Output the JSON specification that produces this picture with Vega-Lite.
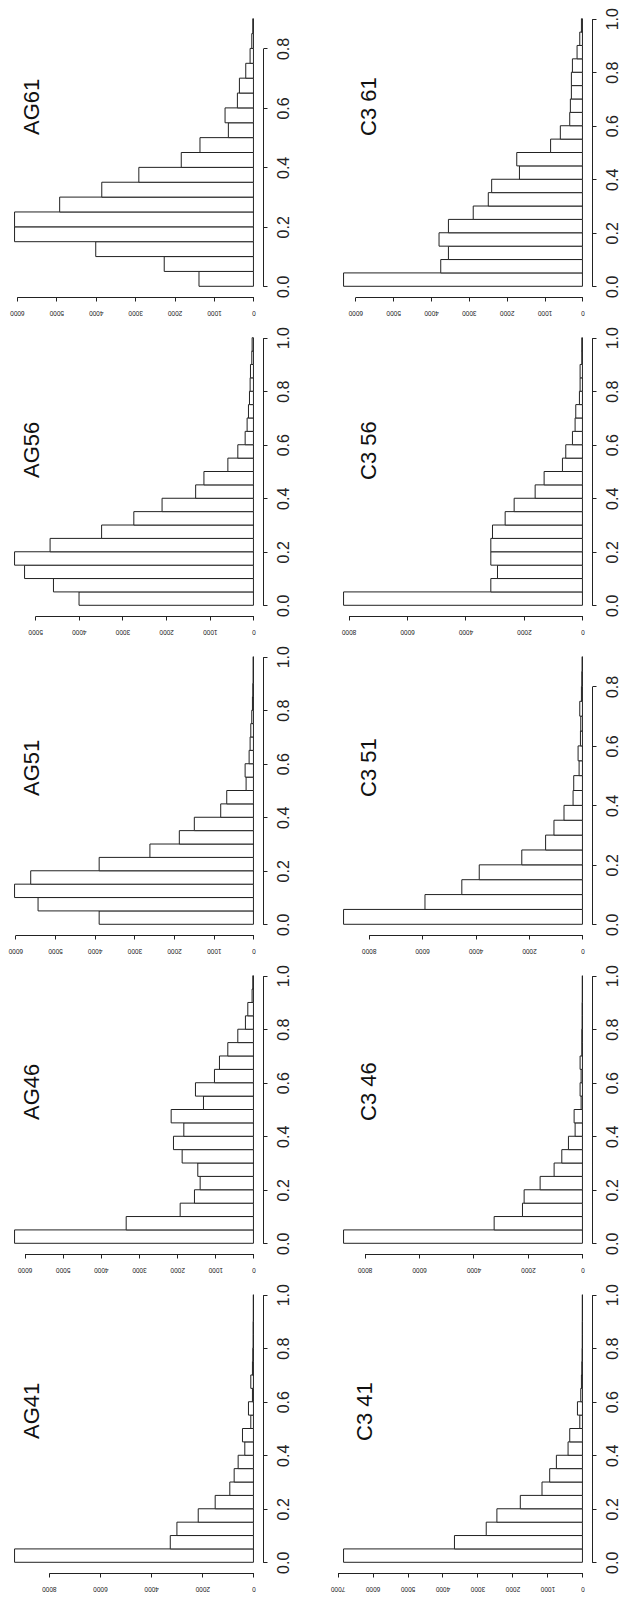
{
  "$schema": "https://vega.github.io/schema/vega-lite/v6.json",
  "background": "white",
  "padding": {"left": 5, "top": 7, "right": 0, "bottom": 0},
  "bounds": "flush",
  "columns": 2,
  "spacing": {"row": 30, "column": 71},
  "config": {
    "view": {"stroke": null},
    "font": "Liberation Sans",
    "axis": {"grid": false, "title": null, "domainColor": "#222", "domainWidth": 1, "tickColor": "#222", "tickWidth": 1, "tickSize": 4, "labelColor": "#222", "labelFont": "Liberation Sans", "labelOverlap": false, "labelFlush": false},
    "axisX": {"labelAngle": 180, "labelFontSize": 6.5, "labelPadding": 8.5, "labelAlign": "center", "labelBaseline": "bottom"},
    "axisY": {"labelAngle": 270, "labelFontSize": 16, "labelPadding": 8, "labelAlign": "center", "labelBaseline": "top", "labelFont": "Liberation Sans Narrow, Liberation Sans"},
    "title": {"fontSize": 22, "fontWeight": "normal", "color": "#111", "font": "Liberation Sans"},
    "bar": {"fill": "white", "stroke": "#222", "strokeWidth": 1}
  },
  "datasets": {
    "AG61": [
      {"lo": 0, "hi": 0.05, "count": 1381}, {"lo": 0.05, "hi": 0.1, "count": 2263}, {"lo": 0.1, "hi": 0.15, "count": 4000}, {"lo": 0.15, "hi": 0.2, "count": 6059},
      {"lo": 0.2, "hi": 0.25, "count": 6059}, {"lo": 0.25, "hi": 0.3, "count": 4915}, {"lo": 0.3, "hi": 0.35, "count": 3847}, {"lo": 0.35, "hi": 0.4, "count": 2907},
      {"lo": 0.4, "hi": 0.45, "count": 1831}, {"lo": 0.45, "hi": 0.5, "count": 1356}, {"lo": 0.5, "hi": 0.55, "count": 636}, {"lo": 0.55, "hi": 0.6, "count": 720},
      {"lo": 0.6, "hi": 0.65, "count": 407}, {"lo": 0.65, "hi": 0.7, "count": 356}, {"lo": 0.7, "hi": 0.75, "count": 195}, {"lo": 0.75, "hi": 0.8, "count": 85},
      {"lo": 0.8, "hi": 0.85, "count": 42}, {"lo": 0.85, "hi": 0.9, "count": 17}
    ],
    "C361": [
      {"lo": 0, "hi": 0.05, "count": 6310}, {"lo": 0.05, "hi": 0.1, "count": 3743}, {"lo": 0.1, "hi": 0.15, "count": 3540}, {"lo": 0.15, "hi": 0.2, "count": 3788},
      {"lo": 0.2, "hi": 0.25, "count": 3540}, {"lo": 0.25, "hi": 0.3, "count": 2885}, {"lo": 0.3, "hi": 0.35, "count": 2487}, {"lo": 0.35, "hi": 0.4, "count": 2398},
      {"lo": 0.4, "hi": 0.45, "count": 1664}, {"lo": 0.45, "hi": 0.5, "count": 1735}, {"lo": 0.5, "hi": 0.55, "count": 841}, {"lo": 0.55, "hi": 0.6, "count": 584},
      {"lo": 0.6, "hi": 0.65, "count": 336}, {"lo": 0.65, "hi": 0.7, "count": 319}, {"lo": 0.7, "hi": 0.75, "count": 292}, {"lo": 0.75, "hi": 0.8, "count": 292},
      {"lo": 0.8, "hi": 0.85, "count": 265}, {"lo": 0.85, "hi": 0.9, "count": 142}, {"lo": 0.9, "hi": 0.95, "count": 71}, {"lo": 0.95, "hi": 1, "count": 27}
    ],
    "AG56": [
      {"lo": 0, "hi": 0.05, "count": 3995}, {"lo": 0.05, "hi": 0.1, "count": 4581}, {"lo": 0.1, "hi": 0.15, "count": 5243}, {"lo": 0.15, "hi": 0.2, "count": 5472},
      {"lo": 0.2, "hi": 0.25, "count": 4658}, {"lo": 0.25, "hi": 0.3, "count": 3478}, {"lo": 0.3, "hi": 0.35, "count": 2740}, {"lo": 0.35, "hi": 0.4, "count": 2093},
      {"lo": 0.4, "hi": 0.45, "count": 1324}, {"lo": 0.45, "hi": 0.5, "count": 1134}, {"lo": 0.5, "hi": 0.55, "count": 586}, {"lo": 0.55, "hi": 0.6, "count": 358},
      {"lo": 0.6, "hi": 0.65, "count": 190}, {"lo": 0.65, "hi": 0.7, "count": 145}, {"lo": 0.7, "hi": 0.75, "count": 114}, {"lo": 0.75, "hi": 0.8, "count": 91},
      {"lo": 0.8, "hi": 0.85, "count": 76}, {"lo": 0.85, "hi": 0.9, "count": 68}, {"lo": 0.9, "hi": 0.95, "count": 38}, {"lo": 0.95, "hi": 1, "count": 30}
    ],
    "C356": [
      {"lo": 0, "hi": 0.05, "count": 8171}, {"lo": 0.05, "hi": 0.1, "count": 3134}, {"lo": 0.1, "hi": 0.15, "count": 2906}, {"lo": 0.15, "hi": 0.2, "count": 3134},
      {"lo": 0.2, "hi": 0.25, "count": 3134}, {"lo": 0.25, "hi": 0.3, "count": 3077}, {"lo": 0.3, "hi": 0.35, "count": 2644}, {"lo": 0.35, "hi": 0.4, "count": 2336},
      {"lo": 0.4, "hi": 0.45, "count": 1618}, {"lo": 0.45, "hi": 0.5, "count": 1311}, {"lo": 0.5, "hi": 0.55, "count": 684}, {"lo": 0.55, "hi": 0.6, "count": 570},
      {"lo": 0.6, "hi": 0.65, "count": 342}, {"lo": 0.65, "hi": 0.7, "count": 251}, {"lo": 0.7, "hi": 0.75, "count": 228}, {"lo": 0.75, "hi": 0.8, "count": 103},
      {"lo": 0.8, "hi": 0.85, "count": 80}, {"lo": 0.85, "hi": 0.9, "count": 80}, {"lo": 0.9, "hi": 0.95, "count": 23}, {"lo": 0.95, "hi": 1, "count": 23}
    ],
    "AG51": [
      {"lo": 0, "hi": 0.05, "count": 3888}, {"lo": 0.05, "hi": 0.1, "count": 5428}, {"lo": 0.1, "hi": 0.15, "count": 6020}, {"lo": 0.15, "hi": 0.2, "count": 5613},
      {"lo": 0.2, "hi": 0.25, "count": 3888}, {"lo": 0.25, "hi": 0.3, "count": 2609}, {"lo": 0.3, "hi": 0.35, "count": 1868}, {"lo": 0.35, "hi": 0.4, "count": 1490},
      {"lo": 0.4, "hi": 0.45, "count": 825}, {"lo": 0.45, "hi": 0.5, "count": 673}, {"lo": 0.5, "hi": 0.55, "count": 185}, {"lo": 0.55, "hi": 0.6, "count": 210},
      {"lo": 0.6, "hi": 0.65, "count": 109}, {"lo": 0.65, "hi": 0.7, "count": 84}, {"lo": 0.7, "hi": 0.75, "count": 67}, {"lo": 0.75, "hi": 0.8, "count": 42},
      {"lo": 0.8, "hi": 0.85, "count": 25}, {"lo": 0.85, "hi": 0.9, "count": 17}, {"lo": 0.9, "hi": 0.95, "count": 8}, {"lo": 0.95, "hi": 1, "count": 8}
    ],
    "C351": [
      {"lo": 0, "hi": 0.05, "count": 8940}, {"lo": 0.05, "hi": 0.1, "count": 5893}, {"lo": 0.1, "hi": 0.15, "count": 4514}, {"lo": 0.15, "hi": 0.2, "count": 3862},
      {"lo": 0.2, "hi": 0.25, "count": 2270}, {"lo": 0.25, "hi": 0.3, "count": 1379}, {"lo": 0.3, "hi": 0.35, "count": 1066}, {"lo": 0.35, "hi": 0.4, "count": 690},
      {"lo": 0.4, "hi": 0.45, "count": 351}, {"lo": 0.45, "hi": 0.5, "count": 326}, {"lo": 0.5, "hi": 0.55, "count": 125}, {"lo": 0.55, "hi": 0.6, "count": 163},
      {"lo": 0.6, "hi": 0.65, "count": 75}, {"lo": 0.65, "hi": 0.7, "count": 63}, {"lo": 0.7, "hi": 0.75, "count": 100}, {"lo": 0.75, "hi": 0.8, "count": 38},
      {"lo": 0.8, "hi": 0.85, "count": 25}, {"lo": 0.85, "hi": 0.9, "count": 13}
    ],
    "AG46": [
      {"lo": 0, "hi": 0.05, "count": 6262}, {"lo": 0.05, "hi": 0.1, "count": 3336}, {"lo": 0.1, "hi": 0.15, "count": 1921}, {"lo": 0.15, "hi": 0.2, "count": 1546},
      {"lo": 0.2, "hi": 0.25, "count": 1397}, {"lo": 0.25, "hi": 0.3, "count": 1459}, {"lo": 0.3, "hi": 0.35, "count": 1869}, {"lo": 0.35, "hi": 0.4, "count": 2096},
      {"lo": 0.4, "hi": 0.45, "count": 1825}, {"lo": 0.45, "hi": 0.5, "count": 2157}, {"lo": 0.5, "hi": 0.55, "count": 1310}, {"lo": 0.55, "hi": 0.6, "count": 1520},
      {"lo": 0.6, "hi": 0.65, "count": 1022}, {"lo": 0.65, "hi": 0.7, "count": 891}, {"lo": 0.7, "hi": 0.75, "count": 672}, {"lo": 0.75, "hi": 0.8, "count": 410},
      {"lo": 0.8, "hi": 0.85, "count": 210}, {"lo": 0.85, "hi": 0.9, "count": 148}, {"lo": 0.9, "hi": 0.95, "count": 35}, {"lo": 0.95, "hi": 1, "count": 17}
    ],
    "C346": [
      {"lo": 0, "hi": 0.05, "count": 8771}, {"lo": 0.05, "hi": 0.1, "count": 3242}, {"lo": 0.1, "hi": 0.15, "count": 2202}, {"lo": 0.15, "hi": 0.2, "count": 2141},
      {"lo": 0.2, "hi": 0.25, "count": 1554}, {"lo": 0.25, "hi": 0.3, "count": 1040}, {"lo": 0.3, "hi": 0.35, "count": 758}, {"lo": 0.35, "hi": 0.4, "count": 514},
      {"lo": 0.4, "hi": 0.45, "count": 269}, {"lo": 0.45, "hi": 0.5, "count": 306}, {"lo": 0.5, "hi": 0.55, "count": 49}, {"lo": 0.55, "hi": 0.6, "count": 86},
      {"lo": 0.6, "hi": 0.65, "count": 49}, {"lo": 0.65, "hi": 0.7, "count": 86}, {"lo": 0.7, "hi": 0.75, "count": 24}, {"lo": 0.75, "hi": 0.8, "count": 24},
      {"lo": 0.8, "hi": 0.85, "count": 12}, {"lo": 0.85, "hi": 0.9, "count": 12}, {"lo": 0.9, "hi": 0.95, "count": 5}, {"lo": 0.95, "hi": 1, "count": 5}
    ],
    "AG41": [
      {"lo": 0, "hi": 0.05, "count": 9340}, {"lo": 0.05, "hi": 0.1, "count": 3252}, {"lo": 0.1, "hi": 0.15, "count": 2992}, {"lo": 0.15, "hi": 0.2, "count": 2159},
      {"lo": 0.2, "hi": 0.25, "count": 1496}, {"lo": 0.25, "hi": 0.3, "count": 924}, {"lo": 0.3, "hi": 0.35, "count": 754}, {"lo": 0.35, "hi": 0.4, "count": 598},
      {"lo": 0.4, "hi": 0.45, "count": 338}, {"lo": 0.45, "hi": 0.5, "count": 429}, {"lo": 0.5, "hi": 0.55, "count": 104}, {"lo": 0.55, "hi": 0.6, "count": 195},
      {"lo": 0.6, "hi": 0.65, "count": 39}, {"lo": 0.65, "hi": 0.7, "count": 104}, {"lo": 0.7, "hi": 0.75, "count": 39}, {"lo": 0.75, "hi": 0.8, "count": 26},
      {"lo": 0.8, "hi": 0.85, "count": 13}, {"lo": 0.85, "hi": 0.9, "count": 13}, {"lo": 0.9, "hi": 0.95, "count": 5}, {"lo": 0.95, "hi": 1, "count": 5}
    ],
    "C341": [
      {"lo": 0, "hi": 0.05, "count": 6828}, {"lo": 0.05, "hi": 0.1, "count": 3658}, {"lo": 0.1, "hi": 0.15, "count": 2750}, {"lo": 0.15, "hi": 0.2, "count": 2445},
      {"lo": 0.2, "hi": 0.25, "count": 1776}, {"lo": 0.25, "hi": 0.3, "count": 1156}, {"lo": 0.3, "hi": 0.35, "count": 936}, {"lo": 0.35, "hi": 0.4, "count": 745},
      {"lo": 0.4, "hi": 0.45, "count": 411}, {"lo": 0.45, "hi": 0.5, "count": 363}, {"lo": 0.5, "hi": 0.55, "count": 76}, {"lo": 0.55, "hi": 0.6, "count": 143},
      {"lo": 0.6, "hi": 0.65, "count": 48}, {"lo": 0.65, "hi": 0.7, "count": 29}, {"lo": 0.7, "hi": 0.75, "count": 19}, {"lo": 0.75, "hi": 0.8, "count": 10},
      {"lo": 0.8, "hi": 0.85, "count": 5}, {"lo": 0.85, "hi": 0.9, "count": 5}, {"lo": 0.9, "hi": 0.95, "count": 3}, {"lo": 0.95, "hi": 1, "count": 3}
    ]
  },
  "concat": [
    {
      "width": 258, "height": 289,
      "title": {"text": "AG61", "orient": "left", "anchor": "start", "frame": "group", "offset": -56, "dx": 162, "baseline": "alphabetic"},
      "data": {"name": "AG61"},
      "mark": "bar",
      "encoding": {
        "y": {"field": "lo", "type": "quantitative", "scale": {"domain": [-0.036, 0.936], "nice": false, "zero": false}, "axis": {"orient": "right", "values": [0, 0.2, 0.4, 0.6, 0.8], "format": ".1f", "domainDash": [237.9, 2000], "domainDashOffset": -10.7}},
        "y2": {"field": "hi"},
        "x": {"field": "count", "type": "quantitative", "scale": {"domain": [-242.4, 6301.4], "reverse": true, "nice": false, "zero": false}, "axis": {"values": [0, 1000, 2000, 3000, 4000, 5000, 6000], "format": "d", "domainDash": [236.6, 2000], "domainDashOffset": -9.56}},
        "x2": {"datum": 0}
      }
    },
    {
      "width": 258, "height": 289,
      "title": {"text": "C3 61", "orient": "left", "anchor": "start", "frame": "group", "offset": -64, "dx": 161, "baseline": "alphabetic"},
      "data": {"name": "C361"},
      "mark": "bar",
      "encoding": {
        "y": {"field": "lo", "type": "quantitative", "scale": {"domain": [-0.04, 1.04], "nice": false, "zero": false}, "axis": {"orient": "right", "values": [0, 0.2, 0.4, 0.6, 0.8, 1.0], "format": ".1f", "domainDash": [267.6, 2000], "domainDashOffset": -10.7}},
        "y2": {"field": "hi"},
        "x": {"field": "count", "type": "quantitative", "scale": {"domain": [-252.4, 6562.4], "reverse": true, "nice": false, "zero": false}, "axis": {"values": [0, 1000, 2000, 3000, 4000, 5000, 6000], "format": "d", "domainDash": [227.2, 2000], "domainDashOffset": -9.56}},
        "x2": {"datum": 0}
      }
    },
    {
      "width": 258, "height": 289,
      "title": {"text": "AG56", "orient": "left", "anchor": "start", "frame": "group", "offset": -56, "dx": 138, "baseline": "alphabetic"},
      "data": {"name": "AG56"},
      "mark": "bar",
      "encoding": {
        "y": {"field": "lo", "type": "quantitative", "scale": {"domain": [-0.04, 1.04], "nice": false, "zero": false}, "axis": {"orient": "right", "values": [0, 0.2, 0.4, 0.6, 0.8, 1.0], "format": ".1f", "domainDash": [267.6, 2000], "domainDashOffset": -10.7}},
        "y2": {"field": "hi"},
        "x": {"field": "count", "type": "quantitative", "scale": {"domain": [-218.9, 5690.9], "reverse": true, "nice": false, "zero": false}, "axis": {"values": [0, 1000, 2000, 3000, 4000, 5000], "format": "d", "domainDash": [218.3, 2000], "domainDashOffset": -9.56}},
        "x2": {"datum": 0}
      }
    },
    {
      "width": 258, "height": 289,
      "title": {"text": "C3 56", "orient": "left", "anchor": "start", "frame": "group", "offset": -64, "dx": 136, "baseline": "alphabetic"},
      "data": {"name": "C356"},
      "mark": "bar",
      "encoding": {
        "y": {"field": "lo", "type": "quantitative", "scale": {"domain": [-0.04, 1.04], "nice": false, "zero": false}, "axis": {"orient": "right", "values": [0, 0.2, 0.4, 0.6, 0.8, 1.0], "format": ".1f", "domainDash": [267.6, 2000], "domainDashOffset": -10.7}},
        "y2": {"field": "hi"},
        "x": {"field": "count", "type": "quantitative", "scale": {"domain": [-326.8, 8497.8], "reverse": true, "nice": false, "zero": false}, "axis": {"values": [0, 2000, 4000, 6000, 8000], "format": "d", "domainDash": [233.9, 2000], "domainDashOffset": -9.56}},
        "x2": {"datum": 0}
      }
    },
    {
      "width": 258, "height": 289,
      "title": {"text": "AG51", "orient": "left", "anchor": "start", "frame": "group", "offset": -56, "dx": 139, "baseline": "alphabetic"},
      "data": {"name": "AG51"},
      "mark": "bar",
      "encoding": {
        "y": {"field": "lo", "type": "quantitative", "scale": {"domain": [-0.04, 1.04], "nice": false, "zero": false}, "axis": {"orient": "right", "values": [0, 0.2, 0.4, 0.6, 0.8, 1.0], "format": ".1f", "domainDash": [267.6, 2000], "domainDashOffset": -10.7}},
        "y2": {"field": "hi"},
        "x": {"field": "count", "type": "quantitative", "scale": {"domain": [-240.8, 6260.8], "reverse": true, "nice": false, "zero": false}, "axis": {"values": [0, 1000, 2000, 3000, 4000, 5000, 6000], "format": "d", "domainDash": [238.1, 2000], "domainDashOffset": -9.56}},
        "x2": {"datum": 0}
      }
    },
    {
      "width": 258, "height": 289,
      "title": {"text": "C3 51", "orient": "left", "anchor": "start", "frame": "group", "offset": -64, "dx": 138, "baseline": "alphabetic"},
      "data": {"name": "C351"},
      "mark": "bar",
      "encoding": {
        "y": {"field": "lo", "type": "quantitative", "scale": {"domain": [-0.036, 0.936], "nice": false, "zero": false}, "axis": {"orient": "right", "values": [0, 0.2, 0.4, 0.6, 0.8], "format": ".1f", "domainDash": [237.9, 2000], "domainDashOffset": -10.7}},
        "y2": {"field": "hi"},
        "x": {"field": "count", "type": "quantitative", "scale": {"domain": [-357.6, 9297.6], "reverse": true, "nice": false, "zero": false}, "axis": {"values": [0, 2000, 4000, 6000, 8000], "format": "d", "domainDash": [213.8, 2000], "domainDashOffset": -9.56}},
        "x2": {"datum": 0}
      }
    },
    {
      "width": 258, "height": 289,
      "title": {"text": "AG46", "orient": "left", "anchor": "start", "frame": "group", "offset": -56, "dx": 134, "baseline": "alphabetic"},
      "data": {"name": "AG46"},
      "mark": "bar",
      "encoding": {
        "y": {"field": "lo", "type": "quantitative", "scale": {"domain": [-0.04, 1.04], "nice": false, "zero": false}, "axis": {"orient": "right", "values": [0, 0.2, 0.4, 0.6, 0.8, 1.0], "format": ".1f", "domainDash": [267.6, 2000], "domainDashOffset": -10.7}},
        "y2": {"field": "hi"},
        "x": {"field": "count", "type": "quantitative", "scale": {"domain": [-250.5, 6512.5], "reverse": true, "nice": false, "zero": false}, "axis": {"values": [0, 1000, 2000, 3000, 4000, 5000, 6000], "format": "d", "domainDash": [228.9, 2000], "domainDashOffset": -9.56}},
        "x2": {"datum": 0}
      }
    },
    {
      "width": 258, "height": 289,
      "title": {"text": "C3 46", "orient": "left", "anchor": "start", "frame": "group", "offset": -64, "dx": 133, "baseline": "alphabetic"},
      "data": {"name": "C346"},
      "mark": "bar",
      "encoding": {
        "y": {"field": "lo", "type": "quantitative", "scale": {"domain": [-0.04, 1.04], "nice": false, "zero": false}, "axis": {"orient": "right", "values": [0, 0.2, 0.4, 0.6, 0.8, 1.0], "format": ".1f", "domainDash": [267.6, 2000], "domainDashOffset": -10.7}},
        "y2": {"field": "hi"},
        "x": {"field": "count", "type": "quantitative", "scale": {"domain": [-350.8, 9121.8], "reverse": true, "nice": false, "zero": false}, "axis": {"values": [0, 2000, 4000, 6000, 8000], "format": "d", "domainDash": [217.9, 2000], "domainDashOffset": -9.56}},
        "x2": {"datum": 0}
      }
    },
    {
      "width": 258, "height": 289,
      "title": {"text": "AG41", "orient": "left", "anchor": "start", "frame": "group", "offset": -56, "dx": 134, "baseline": "alphabetic"},
      "data": {"name": "AG41"},
      "mark": "bar",
      "encoding": {
        "y": {"field": "lo", "type": "quantitative", "scale": {"domain": [-0.04, 1.04], "nice": false, "zero": false}, "axis": {"orient": "right", "values": [0, 0.2, 0.4, 0.6, 0.8, 1.0], "format": ".1f", "domainDash": [267.6, 2000], "domainDashOffset": -10.7}},
        "y2": {"field": "hi"},
        "x": {"field": "count", "type": "quantitative", "scale": {"domain": [-373.6, 9713.6], "reverse": true, "nice": false, "zero": false}, "axis": {"values": [0, 2000, 4000, 6000, 8000], "format": "d", "domainDash": [204.6, 2000], "domainDashOffset": -9.56}},
        "x2": {"datum": 0}
      }
    },
    {
      "width": 258, "height": 289,
      "title": {"text": "C3 41", "orient": "left", "anchor": "start", "frame": "group", "offset": -64, "dx": 132, "baseline": "alphabetic"},
      "data": {"name": "C341"},
      "mark": "bar",
      "encoding": {
        "y": {"field": "lo", "type": "quantitative", "scale": {"domain": [-0.04, 1.04], "nice": false, "zero": false}, "axis": {"orient": "right", "values": [0, 0.2, 0.4, 0.6, 0.8, 1.0], "format": ".1f", "domainDash": [267.6, 2000], "domainDashOffset": -10.7}},
        "y2": {"field": "hi"},
        "x": {"field": "count", "type": "quantitative", "scale": {"domain": [-273.1, 7101.1], "reverse": true, "nice": false, "zero": false}, "axis": {"values": [0, 1000, 2000, 3000, 4000, 5000, 6000, 7000], "format": "d", "domainDash": [244.9, 2000], "domainDashOffset": -9.56}},
        "x2": {"datum": 0}
      }
    }
  ]
}
